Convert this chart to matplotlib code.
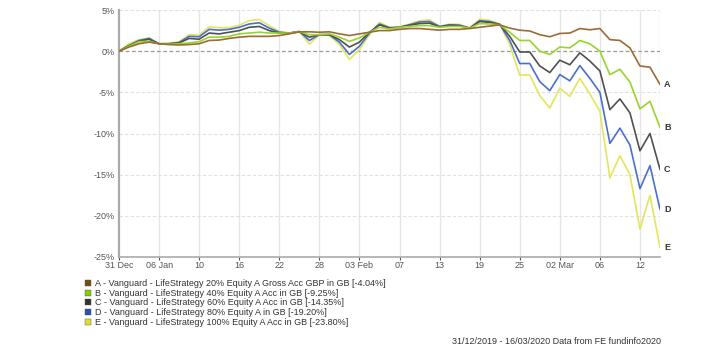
import numpy as np
import matplotlib.pyplot as plt
from matplotlib.lines import Line2D

plt.rcParams['font.family'] = ['Liberation Sans', 'DejaVu Sans']

# weekday index 0..54 : 31 Dec 2019 .. 16 Mar 2020
tick_pos = [0, 4, 8, 12, 16, 20, 24, 28, 32, 36, 40, 44, 48, 52]
tick_lab = ["31 Dec", "06 Jan", "10", "16", "22", "28", "03 Feb", "07",
            "13", "19", "25", "02 Mar", "06", "12"]

a_vals = [0, 0.5, 0.9, 1.1, 0.9, 0.8, 0.75, 0.8, 0.9, 1.3, 1.35, 1.55, 1.7, 1.8,
          1.8, 1.8, 1.9, 2.1, 2.35, 2.35, 2.3, 2.35, 2.1, 1.9, 2.1, 2.3, 2.5, 2.5,
          2.65, 2.75, 2.75, 2.65, 2.55, 2.65, 2.65, 2.75, 2.9, 3.05, 3.2, 2.8,
          2.55, 2.45, 2.0, 1.75, 2.15, 2.2, 2.75, 2.6, 2.75, 1.4, 1.3, 0.4,
          -1.8, -1.95, -4.04]
b_vals = [0, 0.6, 1.15, 1.2, 0.9, 0.85, 0.9, 1.0, 1.15, 1.7, 1.7, 1.8, 2.1, 2.2,
          2.3, 2.2, 2.2, 2.2, 2.35, 2.0, 2.0, 2.1, 1.7, 1.2, 1.6, 2.3, 2.9, 2.7,
          2.9, 3.0, 3.1, 3.1, 2.9, 3.0, 3.0, 2.8, 3.35, 3.3, 3.2, 2.3, 1.3, 1.3,
          0.0, -0.4, 0.5, 0.4, 1.3, 0.9, 0.0, -2.85, -2.2, -3.75, -7.0, -6.1,
          -9.25]
c_vals = [0, 0.65, 1.2, 1.45, 0.9, 0.9, 1.0, 1.55, 1.45, 2.2, 2.1, 2.3, 2.5, 2.9,
          3.0, 2.5, 2.2, 2.2, 2.35, 1.7, 2.0, 2.0, 1.4, 0.5, 1.1, 2.3, 3.2, 2.8,
          2.9, 3.15, 3.35, 3.4, 2.95, 3.15, 3.1, 2.8, 3.6, 3.5, 3.25, 1.8, -0.1,
          -0.1, -1.8, -2.6, -1.1, -1.65, -0.2, -1.2, -2.4, -7.1, -5.8, -7.5,
          -12.1, -10.0, -14.35]
d_vals = [0, 0.7, 1.3, 1.55, 0.9, 0.9, 1.05, 1.8, 1.75, 2.65, 2.55, 2.65, 2.9,
          3.3, 3.45, 2.8, 2.3, 2.2, 2.4, 1.3, 2.0, 2.0, 1.1, -0.4, 0.6, 2.2, 3.3,
          2.85, 2.9, 3.2, 3.55, 3.6, 3.0, 3.2, 3.15, 2.8, 3.7, 3.6, 3.25, 1.3,
          -1.5, -1.5, -3.7, -4.8, -2.85, -3.6, -1.75, -3.3, -5.0, -11.2, -9.35,
          -11.4, -16.7, -13.9, -19.2]
e_vals = [0, 0.9, 1.4, 1.6, 0.9, 0.95, 1.15, 2.0, 1.95, 2.95, 2.85, 2.85, 3.15,
          3.7, 3.85, 3.1, 2.4, 2.2, 2.4, 0.85, 2.0, 1.9, 0.8, -1.0, 0.2, 2.0, 3.5,
          2.9, 2.95, 3.3, 3.7, 3.8, 3.0, 3.3, 3.25, 2.8, 3.9, 3.75, 3.3, 0.8,
          -2.9, -2.9, -5.4, -6.9, -4.5, -5.5, -3.3, -5.2, -7.3, -15.4, -12.7,
          -15.0, -21.6, -17.5, -23.8]

series = [
    ("A", a_vals, "#9b6b36", "#7a4a14", "A - Vanguard - LifeStrategy 20% Equity A Gross Acc GBP in GB [-4.04%]"),
    ("B", b_vals, "#99d42a", "#88cc00", "B - Vanguard - LifeStrategy 40% Equity A Acc in GB [-9.25%]"),
    ("C", c_vals, "#505050", "#333333", "C - Vanguard - LifeStrategy 60% Equity A Acc in GB [-14.35%]"),
    ("D", d_vals, "#4a6fcf", "#2a4fb5", "D - Vanguard - LifeStrategy 80% Equity A in GB [-19.20%]"),
    ("E", e_vals, "#e4e65a", "#dede30", "E - Vanguard - LifeStrategy 100% Equity A Acc in GB [-23.80%]"),
]

fig = plt.figure(figsize=(7.12, 3.56), dpi=100)
ax = fig.add_axes([119/712, 1-257/356, 541/712, 247/356])

x = np.arange(len(a_vals))
# draw E first so A ends on top
for key, vals, col, lcol, lab in series[::-1]:
    ax.plot(x, vals, color=col, lw=1.2, zorder=3)
for key, vals, col, lcol, lab in series:
    ax.text(x[-1] + 0.4, vals[-1], key, fontsize=6.5, fontweight="bold",
            color="#333333", va="center", ha="left")

ax.set_xlim(0, 54)
ax.set_ylim(-25, 5)
ax.set_yticks([5, 0, -5, -10, -15, -20, -25])
ax.set_yticklabels(["5%", "0%", "-5%", "-10%", "-15%", "-20%", "-25%"])
ax.set_xticks(tick_pos)
ax.set_xticklabels(tick_lab)
ax.tick_params(axis="both", labelsize=6.5, colors="#555555", length=2, pad=1)
ax.tick_params(axis="y", length=0, pad=3)

for p in tick_pos[1:]:
    ax.axvline(p, color="#e6e6e6", lw=1.0, zorder=1)
for yv in [5, -5, -10, -15, -20]:
    ax.axhline(yv, color="#e0e0e0", lw=0.8, ls=(0, (3, 2)), zorder=1)
ax.axhline(0, color="#999999", lw=0.9, ls=(0, (3, 2)), zorder=2)
ax.axvline(54, color="#e6e6e6", lw=1.0, zorder=1)

for s in ["top", "right"]:
    ax.spines[s].set_visible(False)
ax.spines["left"].set_color("#aaaaaa")
ax.spines["left"].set_linewidth(1.6)
ax.spines["bottom"].set_color("#aaaaaa")
ax.spines["bottom"].set_linewidth(1.2)

handles = [Line2D([], [], ls="none", marker="s", markersize=5, markerfacecolor=lcol,
                  markeredgecolor="#555555", markeredgewidth=0.3)
           for key, vals, col, lcol, lab in series]
fig.legend(handles, [s[4] for s in series], loc="upper left",
           bbox_to_anchor=(84/712, 1-279/356), frameon=False, fontsize=6.5,
           handlelength=0.8, handletextpad=0.4, labelspacing=0.08,
           borderpad=0, borderaxespad=0, labelcolor="#333333")

fig.text(661/712, 1-342/356, "31/12/2019 - 16/03/2020 Data from FE fundinfo2020",
         fontsize=6.5, color="#333333", ha="right", va="center")

fig.savefig("out.png", dpi=100)
